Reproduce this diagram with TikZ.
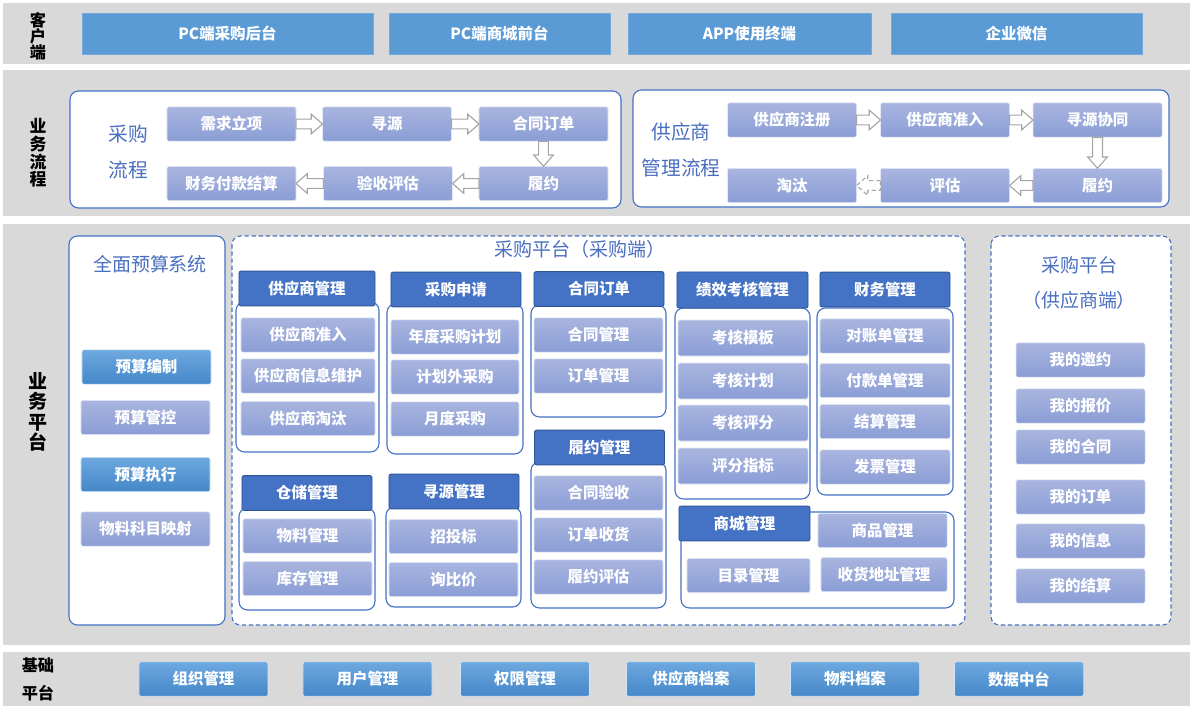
\documentclass[tikz,border=0pt]{standalone}
\usepackage{fontspec}
\setmainfont{Noto Sans CJK SC}
\usetikzlibrary{calc}
\definecolor{bandgrey}{HTML}{D9D9D9}
\definecolor{clientblue}{HTML}{5B9BD5}
\definecolor{lavtop}{HTML}{A9B5DF}
\definecolor{lavbot}{HTML}{8A9DD6}
\definecolor{btntop}{HTML}{6EA8E0}
\definecolor{btnbot}{HTML}{4487C8}
\definecolor{headblue}{HTML}{4472C4}
\definecolor{headdark}{HTML}{2F5597}
\definecolor{lineblue}{HTML}{4472C4}
\definecolor{titleblue}{HTML}{4A6FC0}
\definecolor{arrowgrey}{HTML}{A6A6A6}
\newcommand*{\boxfont}{\fontsize{11}{12}\selectfont\bfseries}
\newcommand*{\titlefont}{\fontsize{13.5}{16}\selectfont}
\newcommand*{\sidefont}{\fontsize{11.5}{11.5}\selectfont\bfseries}
\tikzstyle{base}=[x=0.025cm, y=-0.025cm, inner sep=0pt, outer sep=0pt]
\tikzstyle{band}=[fill=bandgrey]
\tikzstyle{client}=[fill=clientblue, draw=clientblue!85!white, text=white, font=\boxfont, minimum height=1.025cm]
\tikzstyle{item}=[draw=white!70!lavtop, rounded corners=1.5pt, top color=lavtop, bottom color=lavbot, text=white, font=\boxfont, minimum width=3.225cm, minimum height=0.86cm]
\tikzstyle{btn}=[item, draw=white!70!btntop, top color=btntop, bottom color=btnbot]
\tikzstyle{head}=[fill=headblue, draw=headdark, line width=0.6pt, rounded corners=1.5pt, text=white, font=\boxfont, minimum width=3.25cm, minimum height=0.87cm]
\tikzstyle{frame}=[draw=lineblue, line width=0.8pt, rounded corners=6pt, fill=white]
\tikzstyle{dframe}=[frame, dash pattern=on 3pt off 2pt]
\tikzstyle{title}=[text=titleblue, font=\titlefont]
\tikzstyle{side}=[font=\sidefont, align=center]
\tikzstyle{blockarr}=[draw=arrowgrey, fill=white, line width=0.8pt]
\newcommand*{\blockarrow}[3][]{%
  \draw [blockarr, #1] let \p1 = (#2), \p2 = (#3),
      \n1 = {veclen(\x2-\x1,\y2-\y1)}, \n2 = {atan2(\y2-\y1,\x2-\x1)} in
    [shift={(\p1)}, rotate=\n2]
    (0pt,-3.5pt) -- (\n1-8pt,-3.5pt) -- (\n1-8pt,-7pt) -- (\n1,0pt)
    -- (\n1-8pt,7pt) -- (\n1-8pt,3.5pt) -- (0pt,3.5pt) -- cycle;
}

\begin{document}
\begin{tikzpicture}[base]
    \fill [white] (0,0) rectangle (1200,716);
    \path [use as bounding box] (0,0) rectangle (1200,716);
    % client
    \fill [band] (3,3) rectangle (1190,64);
    \node [side] (lkh) at (38,36) {客\\户\\端};
    \node [client, minimum width=7.275cm] (pcb) at (227.5,33.5) {PC端采购后台};
    \node [client, minimum width=5.525cm] (pcf) at (499.5,33.5) {PC端商城前台};
    \node [client, minimum width=6.075cm] (app) at (749.5,33.5) {APP使用终端};
    \node [client, minimum width=6.275cm] (wx) at (1016.5,33.5) {企业微信};
    % business flow
    \fill [band] (3,70) rectangle (1190,216);
    \node [side, font=\fontsize{12}{12.5}\selectfont\bfseries] (llc) at (38,153) {业\\务\\流\\程};
    \draw [frame] (70,91) rectangle (621,208);
    \node [title, align=center, font=\fontsize{14}{26}\selectfont] (tcg) at (128,152) {采购\\流程};
    \node [item] (xq) at (231.5,124) {需求立项};
    \node [item] (xy) at (387,124) {寻源};
    \node [item] (ht) at (543.5,124) {合同订单};
    \node [item] (cw) at (231.5,183.5) {财务付款结算};
    \node [item] (ys) at (388,183.5) {验收评估};
    \node [item] (ly) at (543.5,183.5) {履约};
    \blockarrow{xq.east}{xy.west}
    \blockarrow{xy.east}{ht.west}
    \blockarrow{ht.south}{ly.north}
    \blockarrow{ly.west}{ys.east}
    \blockarrow{ys.west}{cw.east}
    \draw [frame] (633,90) rectangle (1169,207);
    \node [title, align=center, font=\fontsize{14}{26}\selectfont] (tgy) at (681,150) {供应商\\管理流程};
    \node [item] (zc) at (792,120) {供应商注册};
    \node [item] (zr) at (945,120) {供应商准入};
    \node [item] (xt) at (1097.5,120) {寻源协同};
    \node [item] (tt) at (792,185.5) {淘汰};
    \node [item] (pg) at (945,185.5) {评估};
    \node [item] (lyb) at (1097.5,185.5) {履约};
    \blockarrow{zc.east}{zr.west}
    \blockarrow{zr.east}{xt.west}
    \blockarrow{xt.south}{lyb.north}
    \blockarrow{lyb.west}{pg.east}
    \blockarrow[dash pattern=on 3pt off 2pt]{pg.west}{tt.east}
    % business platform
    \fill [band] (3,224) rectangle (1190,645);
    \node [side, font=\fontsize{13.5}{14.5}\selectfont\bfseries] (lpt) at (38,412) {业\\务\\平\\台};
    \draw [frame] (69,236) rectangle (225,625);
    \node [title] (tys) at (150,264) {全面预算系统};
    \node [btn] (ysbz) at (146.5,367) {预算编制};
    \node [item] (ysgk) at (145.5,417.5) {预算管控};
    \node [btn] (yszx) at (145.5,474.5) {预算执行};
    \node [item] (wlkm) at (145.5,529) {物料科目映射};
    \draw [dframe] (232,236) rectangle (965,625);
    \node [title] (tcgd) at (580,249) {采购平台（采购端）};
    \draw [frame] (236,302) rectangle (379,452);
    \draw [frame] (387,304) rectangle (523,454);
    \draw [frame] (531,305) rectangle (666,417);
    \draw [frame] (531,462) rectangle (666,608);
    \draw [frame] (675,308) rectangle (810,499);
    \draw [frame] (817,308) rectangle (953,495);
    \draw [frame] (239,508) rectangle (375,610);
    \draw [frame] (386,507) rectangle (521,607);
    \draw [frame] (681,512) rectangle (954,608);
    \node [head, minimum width=3.4cm] (hgys) at (307,288.5) {供应商管理};
    \node [item, minimum width=3.35cm] (gyzr) at (308,335) {供应商准入};
    \node [item, minimum width=3.35cm] (gyxx) at (308,376) {供应商信息维护};
    \node [item, minimum width=3.35cm] (gytt) at (308,418.5) {供应商淘汰};
    \node [head] (hsq) at (456,289.5) {采购申请};
    \node [item, minimum width=3.2cm] (ndjh) at (455,337) {年度采购计划};
    \node [item, minimum width=3.2cm] (jhw) at (455,377) {计划外采购};
    \node [item, minimum width=3.2cm] (ydcg) at (455,419) {月度采购};
    \node [head] (hht) at (599,289) {合同订单};
    \node [item] (htgl) at (598.5,335) {合同管理};
    \node [item] (ddgl) at (598.5,376) {订单管理};
    \node [head] (hly) at (599.5,447.5) {履约管理};
    \node [item] (htys) at (598.5,493) {合同验收};
    \node [item] (ddsh) at (598.5,535) {订单收货};
    \node [item] (lypg) at (598.5,577) {履约评估};
    \node [head, minimum width=3.275cm, minimum height=0.9cm] (hjx) at (742.5,290) {绩效考核管理};
    \node [item, minimum width=3.25cm, minimum height=0.9cm] (khmb) at (743,338) {考核模板};
    \node [item, minimum width=3.25cm, minimum height=0.9cm] (khjh) at (743,381) {考核计划};
    \node [item, minimum width=3.25cm, minimum height=0.9cm] (khpf) at (743,423) {考核评分};
    \node [item, minimum width=3.25cm, minimum height=0.9cm] (pfzb) at (743,466) {评分指标};
    \node [head] (hcw) at (885,289.5) {财务管理};
    \node [item, minimum width=3.25cm] (dzd) at (885,336) {对账单管理};
    \node [item, minimum width=3.25cm] (fkd) at (885,380.5) {付款单管理};
    \node [item, minimum width=3.25cm] (jsgl) at (885,421.5) {结算管理};
    \node [item, minimum width=3.25cm] (fpgl) at (885,467) {发票管理};
    \node [head] (hcc) at (307,493) {仓储管理};
    \node [item] (wlgl) at (307.5,536) {物料管理};
    \node [item] (kcgl) at (307.5,578.5) {库存管理};
    \node [head] (hxy) at (454,491.5) {寻源管理};
    \node [item] (ztb) at (453.5,536.5) {招投标};
    \node [item] (xbj) at (453.5,579.5) {询比价};
    \node [head, minimum width=3.275cm] (hsc) at (744.5,523.5) {商城管理};
    \node [item] (spgl) at (882.5,530.5) {商品管理};
    \node [item, minimum width=3.075cm] (mlgl) at (748.5,575.5) {目录管理};
    \node [item, minimum width=3.15cm] (shdz) at (884,574.5) {收货地址管理};
    \draw [dframe] (991,236) rectangle (1171,625);
    \node [title, align=center, font=\fontsize{13.5}{25}\selectfont] (tgyd) at (1079,283) {采购平台\\（供应商端）};
    \node [item] (wdyy) at (1080.5,360) {我的邀约};
    \node [item] (wdbj) at (1080.5,406) {我的报价};
    \node [item] (wdht) at (1080.5,447) {我的合同};
    \node [item] (wddd) at (1080.5,497) {我的订单};
    \node [item] (wdxx) at (1080.5,541) {我的信息};
    \node [item] (wdjs) at (1080.5,586) {我的结算};
    % base platform
    \fill [band] (3,652) rectangle (1190,706);
    \node [side, font=\fontsize{11.5}{20}\selectfont\bfseries] (ljc) at (38,679) {基础\\平台};
    \node [btn] (zzgl) at (203.5,679) {组织管理};
    \node [btn] (yhgl) at (367.5,679) {用户管理};
    \node [btn] (qxgl) at (525,679) {权限管理};
    \node [btn] (gyda) at (691,679) {供应商档案};
    \node [btn] (wlda) at (855,679) {物料档案};
    \node [btn] (sjzt) at (1019,679) {数据中台};
\end{tikzpicture}
\end{document}
